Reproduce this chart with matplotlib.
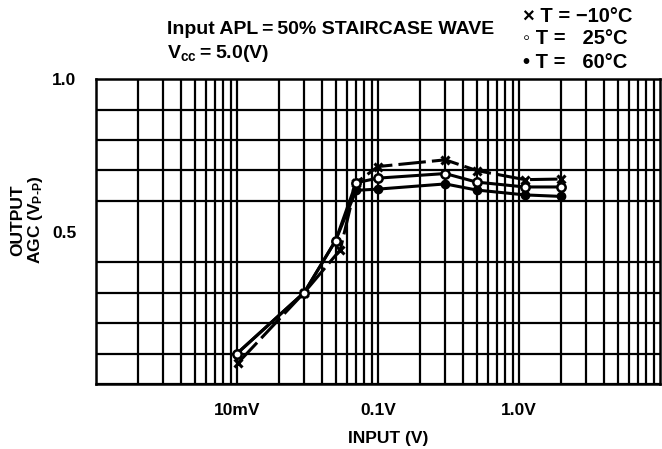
import matplotlib.pyplot as plt
import numpy as np

plt.rcParams['font.family'] = ['Liberation Sans', 'DejaVu Sans']
plt.rcParams['font.weight'] = 'bold'
plt.rcParams['mathtext.fontset'] = 'custom'
plt.rcParams['mathtext.rm'] = 'Liberation Sans:bold'
plt.rcParams['mathtext.it'] = 'Liberation Sans:bold'

# 输入电压 (V) 与输出 AGC (Vp-p)
x_m10 = [0.0102, 0.03, 0.054, 0.07, 0.1, 0.3, 0.5, 1.1, 2.0]
y_m10 = [0.07, 0.30, 0.44, 0.66, 0.713, 0.735, 0.70, 0.67, 0.672]
x_25 = [0.01, 0.03, 0.05, 0.07, 0.1, 0.3, 0.5, 1.1, 2.0]
y_25 = [0.10, 0.30, 0.47, 0.66, 0.675, 0.69, 0.662, 0.646, 0.646]
x_60 = [0.01, 0.03, 0.05, 0.07, 0.1, 0.3, 0.5, 1.1, 2.0]
y_60 = [0.10, 0.30, 0.47, 0.635, 0.639, 0.656, 0.636, 0.62, 0.615]

xtick_vals = [0.01, 0.1, 1.0]
xtick_labels = ['10mV', '0.1V', '1.0V']
ytick_vals = [0.5, 1.0]
ytick_labels = ['0.5', '1.0']

fig = plt.figure(figsize=(6.62, 4.49), dpi=100)
ax = fig.add_axes([96 / 662, 1 - 384 / 449, 564 / 662, (384 - 79) / 449])

ax.set_xscale('log')
ax.set_xlim(1e-3, 10)
ax.set_ylim(0, 1.0)

# 网格
ax.set_yticks(np.arange(0, 1.01, 0.1), minor=True)
ax.grid(True, which='both', axis='x', color='black', linewidth=1.6)
ax.grid(True, which='minor', axis='y', color='black', linewidth=1.6)
ax.set_axisbelow(True)
for s in ax.spines.values():
    s.set_linewidth(1.8)

ax.set_xticks(xtick_vals)
ax.set_xticklabels(xtick_labels)
ax.set_yticks(ytick_vals)
ax.set_yticklabels(ytick_labels)
ax.tick_params(which='both', length=0, labelsize=12.5)
ax.tick_params(axis='x', pad=14)
ax.tick_params(axis='y', pad=14)

ax.plot(x_m10, y_m10, color='black', linewidth=2.2, dashes=(9, 2),
        marker='x', markersize=6, markeredgewidth=2.2, zorder=3)
ax.plot(x_60, y_60, color='black', linewidth=2.2,
        marker='o', markersize=6, markerfacecolor='black', zorder=4)
ax.plot(x_25, y_25, color='black', linewidth=2.2,
        marker='o', markersize=6, markerfacecolor='white',
        markeredgewidth=1.8, zorder=5)

fig.text(388 / 662, 1 - 439 / 449, 'INPUT (V)', fontsize=12.5,
         ha='center', va='center')
fig.text(28 / 662, 1 - 220 / 449, 'OUTPUT\nAGC (V$_{P\u2010P}$)', rotation=90,
         ha='center', va='center', fontsize=12.5, linespacing=1.05)

fig.text(167 / 662, 1 - 30 / 449, 'Input APL\u2009=\u200950% STAIRCASE WAVE',
         fontsize=14, va='center')
fig.text(167 / 662, 1 - 53 / 449, 'V$_{cc}$\u2009=\u20095.0(V)',
         fontsize=14, va='center')

fig.text(523 / 662, 1 - 16 / 449, '\u00d7 T = \u221210\u00b0C', fontsize=14.5, va='center')
fig.text(523 / 662, 1 - 39 / 449, '\u25e6 T =   25\u00b0C', fontsize=14.5, va='center')
fig.text(523 / 662, 1 - 62 / 449, '\u2022 T =   60\u00b0C', fontsize=14.5, va='center')

plt.savefig('out.png', dpi=100)
